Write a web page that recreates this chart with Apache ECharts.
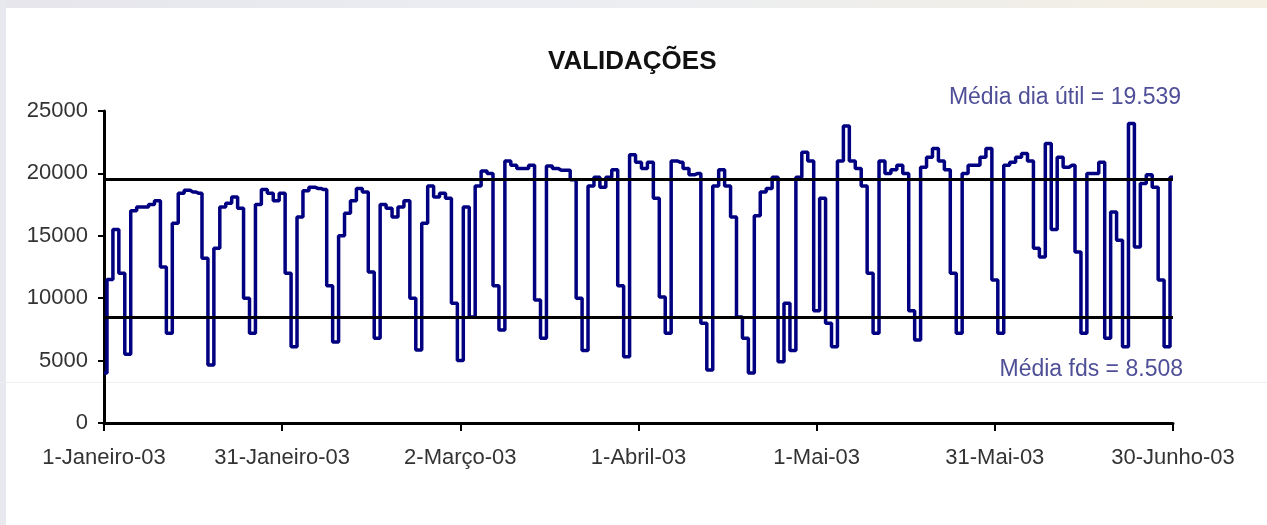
<!DOCTYPE html>
<html>
<head>
<meta charset="utf-8">
<script src="https://cdn.jsdelivr.net/npm/echarts@6/dist/echarts.min.js"></script>
<style>
  html, body { margin: 0; padding: 0; background: #fff; }
  #chart { width: 1267px; height: 525px; }
</style>
</head>
<body>
<div id="chart"></div>
<script>
// month labels used on the date axis (1 Jan 2003 .. 30 Jun 2003)
const monthNames = ['Janeiro', 'Fevereiro', 'Março', 'Abril', 'Mai', 'Junho'];
const monthDays = [31, 28, 31, 30, 31, 30];

// daily validations
const validacoes = [
  4000, 11500, 15500, 12000, 5500,
  17000, 17300, 17300, 17500, 17800, 12500, 7200,
  16000, 18400, 18650, 18500, 18400, 13200, 4650,
  14000, 17300, 17600, 18100, 17200, 10000, 7200,
  17500, 18700, 18400, 17800, 18400, 12000, 6100,
  16500, 18600, 18900, 18800, 18700, 11000, 6500,
  15000, 16800, 17800, 18800, 18500, 12100, 6800,
  17500, 17200, 16500, 17300, 17800, 10000, 5850,
  16000, 19000, 18100, 18400, 18000, 9600, 5000,
  17300, 8500, 19000, 20200, 20000, 11000, 7450,
  21000, 20650, 20400, 20400, 20650, 9850, 6800,
  20600, 20400, 20250, 20250, 19500, 10000, 5800,
  19000, 19700, 18900, 19700, 20300, 11000, 5300,
  21500, 20900, 20400, 20900, 18000, 10100, 7200,
  21000, 20900, 20400, 19900, 20000, 8000, 4250,
  19000, 20300, 19000, 16500, 8500, 6800, 4000,
  16600, 18500, 18800, 19700, 4900, 9600, 5800,
  19700, 21700, 21000, 9000, 18000, 8000, 6100,
  21000, 23800, 21000, 20400, 19000, 12000, 7200,
  21000, 20000, 20300, 20650, 20000, 9000, 6650,
  20500, 21300, 22000, 21000, 20300, 12000, 7200,
  20000, 20650, 20650, 21300, 22000, 11450, 7200,
  20650, 20900, 21300, 21600, 21000, 14000, 13300,
  22400, 15500, 21300, 20500, 20650, 13700, 7200,
  20000, 20000, 20900, 6800, 16900, 14650, 6100,
  24000, 14100, 19200, 19900, 18900, 11450, 6100,
  19700
];

const mediaDiaUtil = 19539;
const mediaFds = 8508;
const yTicks = [0, 5000, 10000, 15000, 20000, 25000];

// build the day labels
const dias = [];
monthNames.forEach((m, i) => {
  for (let d = 1; d <= monthDays[i]; d++) {
    dias.push(d + '-' + m + '-03');
  }
});

const font = '"Liberation Sans", Arial, sans-serif';
const chart = echarts.init(document.getElementById('chart'));

const option = {
  animation: false,
  backgroundColor: '#ffffff',
  textStyle: { fontFamily: font },
  title: {
    text: 'VALIDAÇÕES',
    left: 543,
    top: 44,
    textStyle: { fontFamily: font, fontSize: 26, fontWeight: 'bold', color: '#111' }
  },
  graphic: [
    { type: 'rect', left: 0, top: 0, shape: { width: 1267, height: 8 },
      style: { fill: new echarts.graphic.LinearGradient(0, 0, 1, 0, [
        { offset: 0, color: '#e6e6ec' }, { offset: 0.5, color: '#eceef2' }, { offset: 1, color: '#f4efe2' }]) } },
    { type: 'rect', left: 0, top: 0, shape: { width: 6, height: 525 }, style: { fill: '#e8e8ef' } },
    { type: 'rect', left: 0, top: 382, shape: { width: 1267, height: 1 }, style: { fill: '#eeeef4' } },
    { type: 'text', right: 86, top: 86,
      style: { text: 'Média dia útil = 19.539', fontFamily: font, fontSize: 23, fill: '#4f4f98' } },
    { type: 'text', right: 84, top: 358,
      style: { text: 'Média fds = 8.508', fontFamily: font, fontSize: 23, fill: '#4f4f98' } }
  ],
  grid: { left: 104, right: 94, top: 111, bottom: 102 },
  xAxis: {
    type: 'category',
    data: dias,
    boundaryGap: false,
    axisLine: { lineStyle: { color: '#000', width: 3 } },
    axisTick: { show: true, interval: 29, length: 8, lineStyle: { color: '#000', width: 2 } },
    axisLabel: { interval: 29, fontSize: 22, color: '#333', margin: 24, fontFamily: font },
    splitLine: { show: false }
  },
  yAxis: {
    type: 'value',
    min: yTicks[0],
    max: yTicks[yTicks.length - 1],
    interval: 5000,
    axisLine: { show: true, lineStyle: { color: '#000', width: 3 } },
    axisTick: { show: true, length: 6, lineStyle: { color: '#000', width: 2 } },
    axisLabel: { fontSize: 22, color: '#333', margin: 16, fontFamily: font,
      formatter: v => String(v) },
    splitLine: { show: false }
  },
  series: [{
    type: 'line',
    data: validacoes,
    step: 'middle',
    showSymbol: false,
    lineStyle: { color: '#000080', width: 3.5 },
    itemStyle: { color: '#000080' },
    markLine: {
      silent: true,
      symbol: 'none',
      label: { show: false },
      lineStyle: { color: '#000', width: 3, type: 'solid' },
      data: [{ yAxis: mediaDiaUtil }, { yAxis: mediaFds }]
    }
  }]
};

chart.setOption(option);
</script>
</body>
</html>
